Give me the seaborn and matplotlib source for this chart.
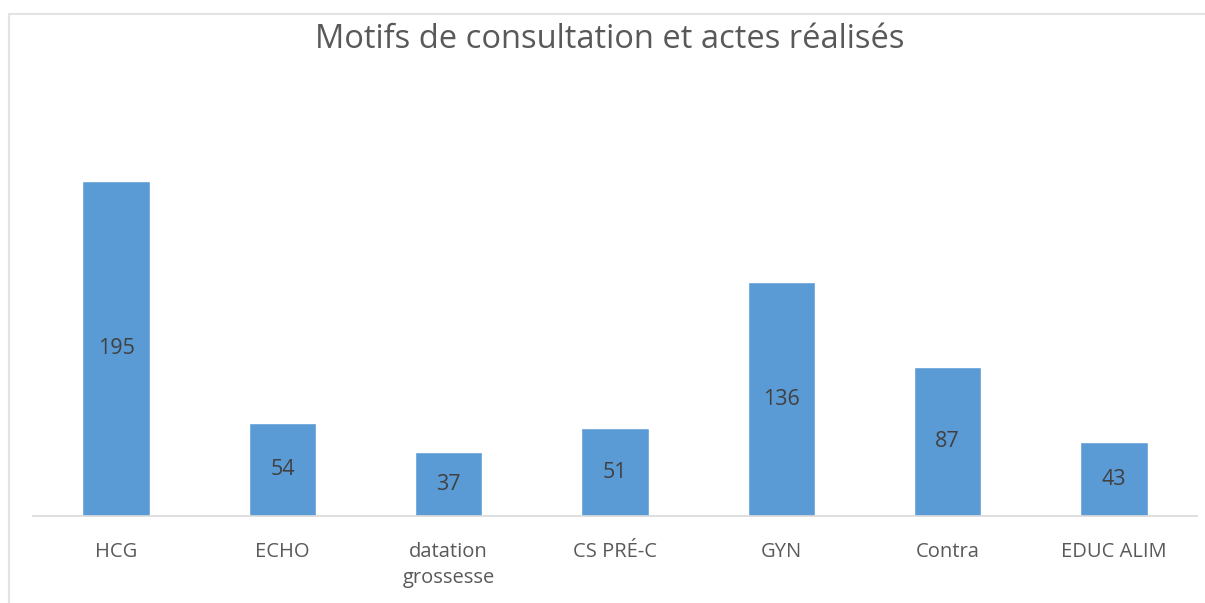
import matplotlib
matplotlib.use("Agg")
import matplotlib.pyplot as plt
import pandas as pd
import seaborn as sns

# Data
categories = ["HCG", "ECHO", "datation\ngrossesse", "CS PRÉ-C", "GYN", "Contra", "EDUC ALIM"]
values = [195, 54, 37, 51, 136, 87, 43]

df = pd.DataFrame({"motif": categories, "n": values})

sns.set_style("white")
plt.rcParams["font.family"] = ["Open Sans", "DejaVu Sans"]

fig = plt.figure(figsize=(12.05, 6.03), dpi=100)
ax = fig.add_axes([33 / 1205, 0.1443, 1164 / 1205, 0.7123])

sns.barplot(data=df, x="motif", y="n", color="#5B9BD5", width=0.405,
            saturation=1, ax=ax)

ax.set_ylim(0, 250)
ax.set_xlim(-0.5, len(categories) - 0.5)
ax.set_xlabel("")
ax.set_ylabel("")
ax.set_yticks([])
for s in ["top", "right", "left"]:
    ax.spines[s].set_visible(False)
ax.spines["bottom"].set_color("#D9D9D9")
ax.spines["bottom"].set_linewidth(1.2)
ax.tick_params(axis="x", length=0, pad=19, labelsize=14.5, labelcolor="#595959")
for lab in ax.get_xticklabels():
    lab.set_linespacing(1.35)

# value labels at the middle of each bar
for i, v in enumerate(values):
    ax.text(i, v / 2, str(v), ha="center", va="center", fontsize=15.5, color="#404040")

fig.text(0.506, 0.934, "Motifs de consultation et actes réalisés",
         ha="center", va="center", fontsize=23.5, color="#595959")

# thin grey frame (top and left visible in the reference)
fig.add_artist(plt.Line2D([9 / 1205, 1], [1 - 14 / 603, 1 - 14 / 603],
                          color="#E3E3E3", lw=1.5, transform=fig.transFigure))
fig.add_artist(plt.Line2D([9 / 1205, 9 / 1205], [0, 1 - 14 / 603],
                          color="#E3E3E3", lw=1.5, transform=fig.transFigure))

fig.savefig("out.png", dpi=100)
